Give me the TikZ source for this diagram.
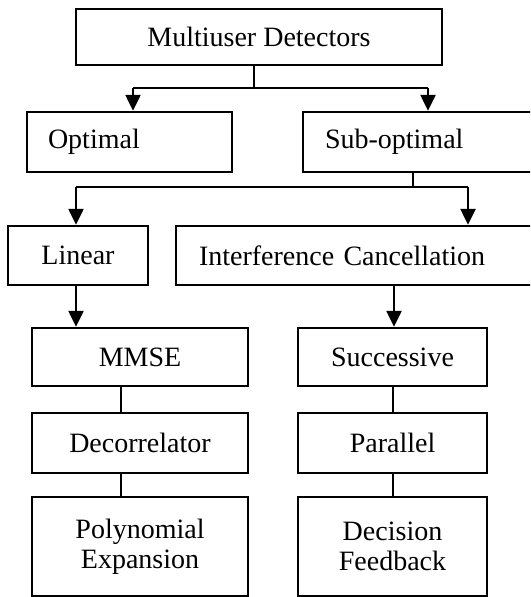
\documentclass[tikz,border=0pt]{standalone}
\usepackage{fontspec}
\setmainfont{Liberation Serif}
\usetikzlibrary{arrows.meta}
\begin{document}
\begin{tikzpicture}[x=0.5pt,y=-0.5pt,
  box/.style={draw, line width=1.2pt, inner ysep=0pt, inner xsep=0pt, align=center,
    font=\fontsize{14}{16}\selectfont},
  lbox/.style={box, align=left},
  arr/.style={line width=1.2pt, -{Triangle[width=7.5pt,length=8pt]}},
  ln/.style={line width=1.2pt}]
\useasboundingbox (0,0) rectangle (530,597);
\clip (0,0) rectangle (530,597);
\fill[white] (0,0) rectangle (530,597);
% boxes
\node[box, minimum width=183pt, minimum height=28pt] (top) at (259,37) {Multiuser Detectors};
\node[lbox, text width=81.5pt, inner xsep=10.5pt, minimum height=30pt] (opt) at (129.5,142) {Optimal};
\node[lbox, text width=99pt, inner xsep=11pt, minimum height=30pt] (sub) at (424,142) {Sub-optimal};
\node[box, minimum width=70pt, minimum height=29.5pt] (lin) at (78,255.5) {Linear};
\node[lbox, text width=161.5pt, inner xsep=11.5pt, minimum height=29.5pt] (ic) at (360.5,255.5) {Interference Cancellation};
\node[box, minimum width=108pt, minimum height=29pt] (mmse) at (140,357) {MMSE};
\node[box, minimum width=94.5pt, minimum height=29pt] (succ) at (392.5,357) {Successive};
\node[box, minimum width=108pt, minimum height=30pt] (dec) at (140,443) {Decorrelator};
\node[box, minimum width=94.5pt, minimum height=30pt] (par) at (392.5,443) {Parallel};
\node[box, minimum width=108pt, minimum height=49.5pt] (poly) at (140,546.5) {Polynomial\\[-1pt]Expansion};
\node[box, minimum width=94.5pt, minimum height=49.5pt] (df) at (392.5,546.5) {Decision\\[-1pt]Feedback};
% junctions
\coordinate (j1) at (254,88);
\coordinate (j1l) at (133,88);
\coordinate (j1r) at (428,88);
\coordinate (j2) at (413,187);
\coordinate (j2l) at (76,187);
\coordinate (j2r) at (468,187);
% connectors
\draw[ln] (top.south -| j1) -- (j1);
\draw[ln] (j1l) -- (j1r);
\draw[arr] (j1l) -- (opt.north -| j1l);
\draw[arr] (j1r) -- (sub.north -| j1r);
\draw[ln] (sub.south -| j2) -- (j2);
\draw[ln] (j2l) -- (j2r);
\draw[arr] (j2l) -- (lin.north -| j2l);
\draw[arr] (j2r) -- (ic.north -| j2r);
\draw[arr] (lin.south -| j2l) -- (mmse.north -| j2l);
\coordinate (c2) at (394,0);
\draw[arr] (ic.south -| c2) -- (succ.north -| c2);
\coordinate (c3) at (121,0);
\coordinate (c4) at (393,0);
\draw[ln] (mmse.south -| c3) -- (dec.north -| c3);
\draw[ln] (dec.south -| c3) -- (poly.north -| c3);
\draw[ln] (succ.south -| c4) -- (par.north -| c4);
\draw[ln] (par.south -| c4) -- (df.north -| c4);
\end{tikzpicture}
\end{document}
